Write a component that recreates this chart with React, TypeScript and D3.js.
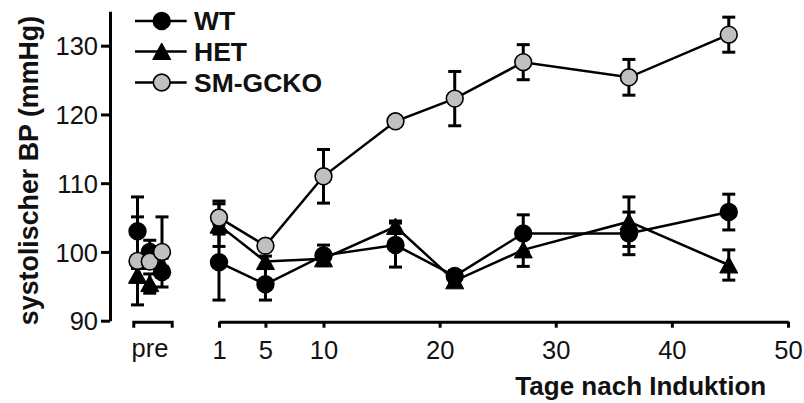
import React, { useEffect, useRef } from "react";
import * as d3 from "d3";

// Tage nach Induktion (x) and pre measurements
const days = [1, 5, 10, 16.2, 21.3, 27.2, 36.3, 44.9];
const preKeys = ["pre1", "pre2", "pre3"];
const xTicks = [1, 5, 10, 20, 30, 40, 50];
const yTicks = [90, 100, 110, 120, 130];

// WT
const wtPre = [103.0, 100.0, 97.1];
const wtPreErr = [5.0, 1.7, 0.8];
const wtVals = [98.5, 95.3, 99.5, 101.0, 96.5, 102.7, 102.7, 105.8];
const wtErr = [5.5, 2.3, 1.5, 3.2, 0.8, 2.7, 3.1, 2.6];

// HET
const hetPre = [96.6, 95.4, 98.1];
const hetPreErr = [1.0, 1.4, 1.0];
const hetVals = [103.9, 98.6, 99.0, 103.7, 95.8, 100.3, 104.4, 98.1];
const hetErr = [3.1, 0.8, 0.8, 0.8, 0.8, 2.4, 3.6, 2.2];

// SM-GCKO
const smPre = [98.7, 98.6, 100.0];
const smPreErr = [6.4, 1.0, 5.1];
const smVals = [105.0, 100.9, 111.0, 119.0, 122.3, 127.6, 125.4, 131.6];
const smErr = [2.4, 0.6, 3.9, 0.6, 3.95, 2.55, 2.6, 2.55];

const FONT = "'Liberation Sans', Arial, Helvetica, sans-serif";

type Marker = "circle" | "triangle";

const App: React.FC = () => {
  const svgRef = useRef<SVGSVGElement>(null);

  useEffect(() => {
    if (!svgRef.current) return;
    const svg = d3.select(svgRef.current);
    svg.selectAll("*").remove();

    const y = d3.scaleLinear().domain([90, 135]).range([320.7, 11.3]);
    const x = d3.scaleLinear().domain([1, 50]).range([219, 788]);
    const xPre = d3.scalePoint<string>().domain(preKeys).range([137.5, 162]);
    const preAxisScale = d3.scaleLinear().domain([0, 1]).range([133.3, 171.7]);

    // Y-Achse
    const yAxis = svg
      .append("g")
      .attr("transform", "translate(110,0)")
      .call(d3.axisLeft(y).tickValues(yTicks).tickSizeInner(9).tickSizeOuter(0).tickPadding(3));
    yAxis.select(".domain").attr("stroke-width", 3);
    yAxis.selectAll(".tick line").attr("stroke-width", 3);
    yAxis
      .selectAll(".tick text")
      .attr("font-family", FONT)
      .attr("font-size", 25.5)
      .attr("fill", "#111")
      .attr("dy", "0.36em");

    // X-Achse (Tage)
    const xAxis = svg
      .append("g")
      .attr("transform", "translate(0,321.7)")
      .call(d3.axisBottom(x).tickValues(xTicks).tickSizeInner(6).tickSizeOuter(0).tickPadding(13));
    xAxis.select(".domain").attr("stroke-width", 3);
    xAxis.selectAll(".tick line").attr("stroke-width", 3);
    xAxis
      .selectAll(".tick text")
      .attr("font-family", FONT)
      .attr("font-size", 25.5)
      .attr("fill", "#111");

    // pre-Achse
    const preAxis = svg
      .append("g")
      .attr("transform", "translate(0,321.7)")
      .call(d3.axisBottom(preAxisScale).tickValues([]).tickSizeOuter(6));
    preAxis.select(".domain").attr("stroke-width", 3);
    svg
      .append("text")
      .attr("x", 150)
      .attr("y", 356.7)
      .attr("text-anchor", "middle")
      .attr("font-family", FONT)
      .attr("font-size", 25.5)
      .attr("fill", "#111")
      .text("pre");

    // Achsentitel
    svg
      .append("text")
      .attr("transform", "translate(38,170.5) rotate(-90)")
      .attr("text-anchor", "middle")
      .attr("font-family", FONT)
      .attr("font-size", 26.8)
      .attr("font-weight", "bold")
      .attr("fill", "#111")
      .text("systolischer BP (mmHg)");

    svg
      .append("text")
      .attr("x", 640.8)
      .attr("y", 395)
      .attr("text-anchor", "middle")
      .attr("font-family", FONT)
      .attr("font-size", 26)
      .attr("font-weight", "bold")
      .attr("fill", "#111")
      .text("Tage nach Induktion");

    const drawMarker = (
      g: d3.Selection<SVGGElement, unknown, null, undefined>,
      cx: number,
      cy: number,
      marker: Marker,
      fill: string
    ) => {
      if (marker === "circle") {
        g.append("circle")
          .attr("cx", cx)
          .attr("cy", cy)
          .attr("r", 8.4)
          .attr("fill", fill)
          .attr("stroke", "#000")
          .attr("stroke-width", 1.6);
      } else {
        g.append("path")
          .attr("d", `M${cx},${cy - 8.5} L${cx + 9},${cy + 8} L${cx - 9},${cy + 8} Z`)
          .attr("fill", fill)
          .attr("stroke", "#000")
          .attr("stroke-width", 1);
      }
    };

    const series = [
      { pre: wtPre, preErr: wtPreErr, vals: wtVals, err: wtErr, marker: "circle" as Marker, fill: "#000" },
      { pre: hetPre, preErr: hetPreErr, vals: hetVals, err: hetErr, marker: "triangle" as Marker, fill: "#000" },
      { pre: smPre, preErr: smPreErr, vals: smVals, err: smErr, marker: "circle" as Marker, fill: "#c0c0c0" },
    ];

    const line = d3
      .line<number>()
      .x((_, i) => x(days[i]))
      .y((d) => y(d));

    const errorBar = (g: d3.Selection<SVGGElement, unknown, null, undefined>, cx: number, v: number, e: number) => {
      const top = y(v + e);
      const bot = y(v - e);
      g.append("line").attr("x1", cx).attr("x2", cx).attr("y1", top).attr("y2", bot);
      g.append("line").attr("x1", cx - 6.5).attr("x2", cx + 6.5).attr("y1", top).attr("y2", top);
      g.append("line").attr("x1", cx - 6.5).attr("x2", cx + 6.5).attr("y1", bot).attr("y2", bot);
    };

    series.forEach((s) => {
      const g = svg.append("g");
      const eg = g.append("g").attr("stroke", "#000").attr("stroke-width", 3);
      s.pre.forEach((v, i) => errorBar(eg, xPre(preKeys[i]) as number, v, s.preErr[i]));
      s.vals.forEach((v, i) => errorBar(eg, x(days[i]), v, s.err[i]));

      g.append("path")
        .attr("d", line(s.vals) || "")
        .attr("fill", "none")
        .attr("stroke", "#000")
        .attr("stroke-width", 2.5);

      s.pre.forEach((v, i) => drawMarker(g, xPre(preKeys[i]) as number, y(v), s.marker, s.fill));
      s.vals.forEach((v, i) => drawMarker(g, x(days[i]), y(v), s.marker, s.fill));
    });

    // Legende
    const legendRows = [
      { label: "WT", marker: "circle" as Marker, fill: "#000", cy: 21 },
      { label: "HET", marker: "triangle" as Marker, fill: "#000", cy: 51.5 },
      { label: "SM-GCKO", marker: "circle" as Marker, fill: "#c0c0c0", cy: 82.5 },
    ];
    const legend = svg.append("g");
    legendRows.forEach((r) => {
      const lg = legend.append("g");
      lg.append("line")
        .attr("x1", 135)
        .attr("x2", 186.7)
        .attr("y1", r.cy)
        .attr("y2", r.cy)
        .attr("stroke", "#000")
        .attr("stroke-width", 2.5);
      drawMarker(lg, 161.7, r.cy, r.marker, r.fill);
      lg.append("text")
        .attr("x", 194)
        .attr("y", r.cy + 9.3)
        .attr("font-family", FONT)
        .attr("font-size", 26.5)
        .attr("font-weight", "bold")
        .attr("fill", "#111")
        .text(r.label);
    });
  }, []);

  return (
    <div style={{ position: "absolute", left: 0, top: 0, background: "#fff" }}>
      <svg ref={svgRef} width={804} height={403} style={{ display: "block" }} />
    </div>
  );
};

export default App;
